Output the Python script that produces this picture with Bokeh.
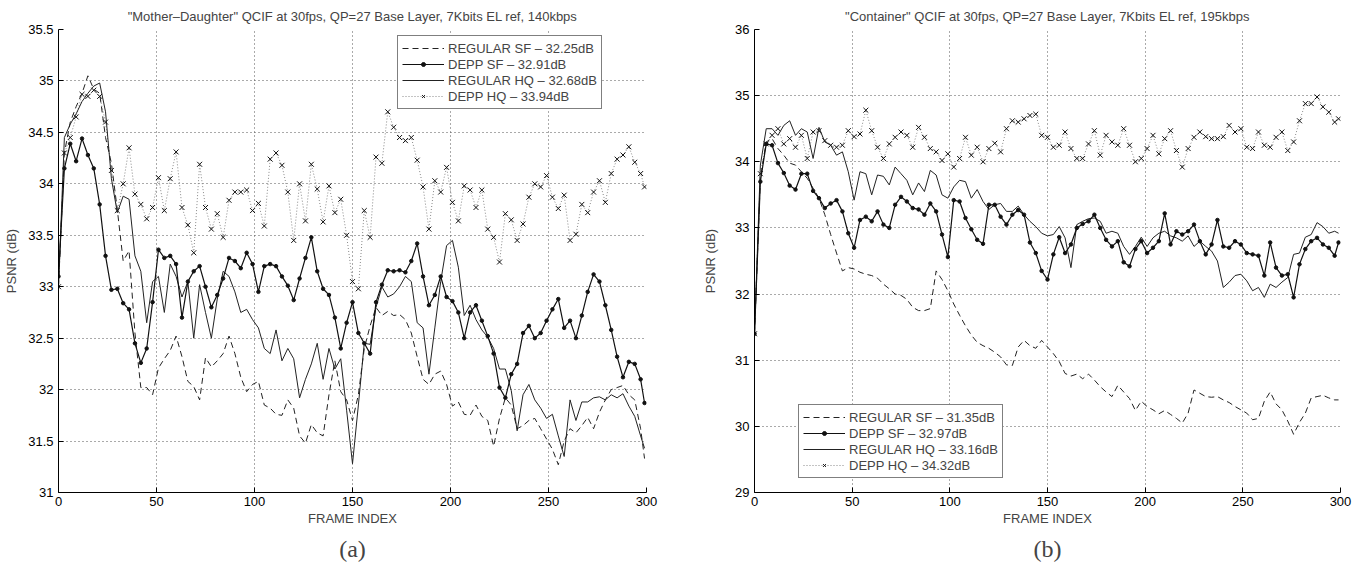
from bokeh.plotting import figure
from bokeh.layouts import row
from bokeh.models import (Legend, LegendItem, FixedTicker, NumeralTickFormatter,
                          Title, Range1d)
from bokeh.embed import file_html
from bokeh.resources import INLINE

# ---------------- data ----------------
FRAMES = list(range(0, 298, 3)) + [299]
X_TICKS = [0, 50, 100, 150, 200, 250, 300]
MD_Y_TICKS = [31, 31.5, 32, 32.5, 33, 33.5, 34, 34.5, 35, 35.5]
CT_Y_TICKS = [29, 30, 31, 32, 33, 34, 35, 36]

MD_TITLE = "\"Mother\u2013Daughter\" QCIF at 30fps, QP=27 Base Layer, 7Kbits EL ref, 140kbps"
CT_TITLE = "\"Container\" QCIF at 30fps, QP=27 Base Layer, 7Kbits EL ref, 195kbps"

MD_LABELS = ["REGULAR SF \u2013 32.25dB", "DEPP SF \u2013 32.91dB",
             "REGULAR HQ \u2013 32.68dB", "DEPP HQ \u2013 33.94dB"]
CT_LABELS = ["REGULAR SF \u2013 31.35dB", "DEPP SF \u2013 32.97dB",
             "REGULAR HQ \u2013 33.16dB", "DEPP HQ \u2013 34.32dB"]

# Mother-Daughter
MD_REG_SF = [
    33.00, 34.30, 34.60, 34.75, 34.88, 35.05, 34.92, 34.88, 34.45, 34.20,
    33.75, 33.25, 33.35, 32.55, 32.02, 32.02, 31.95, 32.21, 32.30, 32.38,
    32.52, 32.32, 32.08, 32.03, 31.90, 32.31, 32.22, 32.28, 32.35, 32.52,
    32.35, 32.12, 31.98, 32.05, 32.08, 31.85, 31.82, 31.76, 31.75, 31.90,
    31.82, 31.55, 31.48, 31.66, 31.58, 31.55, 31.95, 32.28, 31.98, 31.90,
    31.70, 31.95, 32.40, 32.62, 32.80, 32.72, 32.76, 32.72, 32.73, 32.68,
    32.55, 32.32, 32.10, 32.05, 32.15, 32.18, 32.05, 31.84, 31.88, 31.76,
    31.75, 31.85, 31.74, 31.70, 31.45, 31.72, 31.92, 31.85, 31.62, 31.65,
    31.70, 31.72, 31.62, 31.52, 31.42, 31.27, 31.50, 31.62, 31.58, 31.65,
    31.73, 31.62, 31.78, 31.90, 32.00, 32.02, 32.04, 31.95, 31.90, 31.62,
    31.33]
MD_DEPP_SF = [
    33.10, 34.15, 34.39, 34.22, 34.44, 34.28, 34.15, 33.80, 33.30, 32.97,
    32.98, 32.84, 32.78, 32.45, 32.26, 32.40, 32.85, 33.36, 33.28, 33.30,
    33.22, 32.70, 33.05, 33.15, 33.20, 33.00, 32.80, 32.92, 33.08, 33.28,
    33.25, 33.18, 33.33, 33.22, 32.95, 33.20, 33.22, 33.20, 33.10, 33.01,
    32.87, 33.08, 33.28, 33.48, 33.15, 32.98, 32.92, 32.70, 32.40, 32.65,
    32.85, 32.55, 32.45, 32.35, 32.85, 33.02, 33.16, 33.15, 33.16, 33.14,
    33.25, 33.42, 33.10, 32.82, 32.92, 33.10, 32.90, 32.86, 32.75, 32.50,
    32.75, 32.82, 32.67, 32.52, 32.35, 32.02, 31.92, 32.15, 32.25, 32.55,
    32.62, 32.50, 32.55, 32.67, 32.78, 32.88, 32.60, 32.67, 32.50, 32.72,
    32.95, 33.12, 33.05, 32.82, 32.58, 32.32, 32.12, 32.27, 32.25, 32.10,
    31.87]
MD_REG_HQ = [
    33.00, 34.45, 34.58, 34.68, 34.80, 34.88, 34.95, 34.98, 34.70, 34.05,
    33.72, 33.88, 33.85, 33.30, 33.15, 32.65, 33.05, 33.10, 32.75, 33.22,
    33.10, 32.90, 33.05, 32.50, 33.02, 32.75, 32.50, 32.88, 33.15, 33.10,
    32.95, 32.75, 32.78, 32.68, 32.60, 32.40, 32.35, 32.58, 32.28, 32.40,
    32.30, 31.92, 32.10, 32.25, 32.45, 32.10, 32.40, 32.20, 32.30, 31.80,
    31.28, 31.85, 32.45, 32.44, 32.80, 33.00, 32.90, 32.93, 33.00, 33.10,
    33.05, 32.65, 32.60, 32.15, 32.60, 33.05, 33.40, 33.45, 33.19, 32.72,
    32.82, 32.68, 32.58, 32.51, 32.40, 32.20, 32.20, 31.99, 31.60, 31.95,
    32.05, 31.90, 31.82, 31.72, 31.76, 31.55, 31.35, 31.90, 31.70, 31.88,
    31.88, 31.92, 31.93, 31.90, 31.95, 31.92, 31.96, 31.84, 31.74, 31.55,
    31.43]
MD_DEPP_HQ = [
    33.00, 34.30, 34.45, 34.65, 34.87, 34.85, 34.91, 34.85, 34.60, 34.13,
    33.74, 34.00, 34.35, 33.90, 33.80, 33.66, 33.77, 34.06, 33.74, 34.05,
    34.31, 33.77, 33.60, 33.33, 34.19, 33.77, 33.56, 33.71, 33.48, 33.84,
    33.92, 33.92, 33.94, 33.74, 33.81, 33.59, 34.24, 34.30, 34.18, 33.92,
    33.45, 34.00, 33.64, 34.19, 33.95, 33.63, 33.98, 33.72, 33.85, 33.50,
    33.05, 32.98, 33.74, 33.48, 34.26, 34.20, 34.70, 34.55, 34.45, 34.42,
    34.45, 34.23, 33.97, 33.56, 34.03, 33.92, 34.16, 33.82, 33.64, 33.98,
    33.94, 33.77, 33.94, 33.56, 33.48, 33.24, 33.71, 33.65, 33.45, 33.61,
    33.87, 34.00, 33.97, 34.08, 33.87, 33.76, 33.89, 33.45, 33.51, 33.80,
    33.72, 33.92, 34.03, 33.82, 34.10, 34.24, 34.28, 34.36, 34.21, 34.10,
    33.97]

# Container
CT_REG_SF = [
    31.40, 33.75, 34.30, 34.35, 34.20, 34.10, 33.98, 33.95, 33.85, 33.75,
    33.60, 33.45, 33.20, 32.90, 32.62, 32.35, 32.40, 32.38, 32.33, 32.30,
    32.28, 32.24, 32.15, 32.08, 32.00, 31.98, 31.92, 31.80, 31.75, 31.75,
    31.78, 32.35, 32.22, 32.05, 31.85, 31.68, 31.52, 31.38, 31.27, 31.22,
    31.18, 31.12, 31.05, 30.93, 30.92, 31.20, 31.30, 31.22, 31.18, 31.30,
    31.20, 31.10, 30.98, 30.80, 30.76, 30.79, 30.72, 30.79, 30.70, 30.60,
    30.52, 30.45, 30.62, 30.52, 30.42, 30.24, 30.38, 30.30, 30.25, 30.19,
    30.24, 30.18, 30.12, 30.05, 30.20, 30.55, 30.50, 30.45, 30.44, 30.45,
    30.40, 30.36, 30.30, 30.25, 30.20, 30.10, 30.12, 30.38, 30.52, 30.34,
    30.25, 30.08, 29.88, 30.06, 30.20, 30.43, 30.45, 30.47, 30.43, 30.40,
    30.40]
CT_DEPP_SF = [
    31.40, 33.70, 34.27, 34.25, 33.98, 33.83, 33.64, 33.58, 33.82, 33.82,
    33.56, 33.45, 33.30, 33.37, 33.42, 33.25, 32.92, 32.70, 33.12, 33.17,
    33.10, 33.25, 33.05, 33.00, 33.35, 33.47, 33.40, 33.30, 33.28, 33.20,
    33.37, 33.25, 32.90, 32.56, 33.42, 33.40, 33.15, 32.98, 32.82, 32.76,
    33.35, 33.35, 33.17, 33.05, 33.20, 33.27, 33.20, 32.78, 32.62, 32.35,
    32.22, 32.60, 32.86, 32.62, 32.75, 33.00, 33.06, 33.10, 33.20, 33.00,
    32.82, 32.72, 32.80, 32.48, 32.42, 32.68, 32.80, 32.62, 32.70, 32.80,
    33.22, 32.75, 32.95, 32.90, 32.95, 33.05, 32.80, 32.60, 32.75, 33.12,
    32.72, 32.70, 32.80, 32.75, 32.62, 32.60, 32.58, 32.28, 32.78, 32.40,
    32.28, 32.30, 31.95, 32.45, 32.68, 32.80, 32.85, 32.75, 32.70, 32.58,
    32.78]
CT_REG_HQ = [
    31.40, 33.95, 34.50, 34.50, 34.40, 34.55, 34.62, 34.40, 34.50, 34.45,
    34.05, 34.52, 34.30, 34.25, 34.10, 34.15, 33.85, 33.42, 33.85, 33.82,
    33.50, 33.80, 33.78, 33.65, 33.92, 33.82, 33.72, 33.50, 33.68, 33.55,
    33.87, 33.80, 33.50, 33.45, 33.62, 33.72, 33.70, 33.45, 33.58, 33.40,
    33.28, 33.35, 33.37, 33.25, 33.25, 33.33, 33.20, 33.10, 33.02, 32.92,
    32.88, 32.90, 33.02, 32.85, 32.40, 33.05, 33.10, 33.14, 33.15, 33.10,
    32.92, 32.95, 32.92, 32.72, 32.60, 32.72, 32.86, 32.72, 32.85, 32.92,
    32.95, 32.88, 32.85, 32.80, 32.88, 32.72, 32.80, 32.72, 32.65, 32.50,
    32.10, 32.18, 32.28, 32.30, 32.20, 32.05, 32.10, 31.95, 32.15, 32.10,
    32.18, 32.25, 32.60, 32.62, 32.86, 32.90, 33.08, 33.02, 32.92, 32.95,
    32.92]
CT_DEPP_HQ = [
    31.40, 33.82, 34.27, 34.40, 34.50, 34.27, 34.35, 34.22, 34.40, 34.05,
    34.45, 34.47, 34.32, 34.25, 34.22, 34.25, 34.47, 34.38, 34.42, 34.78,
    34.47, 34.22, 34.05, 34.27, 34.37, 34.45, 34.40, 34.22, 34.52, 34.37,
    34.20, 34.15, 34.02, 34.12, 33.92, 34.05, 34.37, 34.10, 34.22, 34.00,
    34.20, 34.28, 34.15, 34.50, 34.62, 34.60, 34.65, 34.70, 34.72, 34.40,
    34.37, 34.22, 34.25, 34.45, 34.20, 34.05, 34.05, 34.27, 34.47, 34.10,
    34.40, 34.30, 34.25, 34.50, 34.25, 34.00, 34.05, 34.20, 34.40, 34.12,
    34.35, 34.47, 34.17, 33.92, 34.20, 34.37, 34.45, 34.38, 34.35, 34.35,
    34.38, 34.55, 34.45, 34.50, 34.22, 34.20, 34.45, 34.25, 34.22, 34.37,
    34.45, 34.17, 34.30, 34.62, 34.88, 34.88, 34.98, 34.83, 34.75, 34.60,
    34.65]

FONT = "Liberation Sans"


def make_panel(title, caption, y_lo, y_hi, y_ticks, reg_sf, depp_sf, reg_hq, depp_hq,
               labels, width, border_left, border_right, legend_loc, ylab_standoff):
    p = figure(width=width, height=572, output_backend="svg", toolbar_location=None,
               x_range=Range1d(0, 300), y_range=Range1d(y_lo, y_hi),
               min_border_left=border_left, min_border_right=border_right,
               min_border_top=29, min_border_bottom=80,
               background_fill_color="white", border_fill_color="white")
    p.outline_line_color = None

    p.title.text = title
    p.title.align = "center"
    p.title.text_font = FONT
    p.title.text_font_style = "normal"
    p.title.text_font_size = "13px"
    p.title.standoff = 12

    p.add_layout(Title(text=caption, align="center", text_font="Liberation Serif",
                       text_font_size="24px", text_font_style="normal"), "below")

    for ax in (p.xaxis[0], p.yaxis[0]):
        ax.major_label_text_font = FONT
        ax.major_label_text_font_size = "13px"
        ax.major_label_text_color = "black"
        ax.axis_label_text_font = FONT
        ax.axis_label_text_font_size = "13px"
        ax.axis_label_text_font_style = "normal"
        ax.axis_line_color = "black"
        ax.major_tick_in = 5
        ax.major_tick_out = 0
        ax.minor_tick_line_color = None
        ax.formatter = NumeralTickFormatter(format="0.[0]")
    p.xaxis.ticker = FixedTicker(ticks=X_TICKS)
    p.yaxis.ticker = FixedTicker(ticks=y_ticks)
    p.xaxis.axis_label = "FRAME INDEX"
    p.xaxis.axis_label_standoff = 2
    p.yaxis.axis_label = "PSNR (dB)"
    p.yaxis.axis_label_standoff = ylab_standoff
    p.xaxis.major_label_standoff = 4
    p.yaxis.major_label_standoff = 5

    for g in (p.xgrid[0], p.ygrid[0]):
        g.grid_line_color = "#555555"
        g.grid_line_dash = "1 3"
        g.grid_line_width = 1

    r_hq_line = p.line(FRAMES, depp_hq, line_color="#888888", line_dash="1 2", line_width=1)
    r_hq_mark = p.scatter(FRAMES, depp_hq, marker="x", size=7, line_color="#111111", line_width=1)
    r_sf = p.line(FRAMES, reg_sf, line_color="#222222", line_dash="6 4", line_width=1)
    r_rhq = p.line(FRAMES, reg_hq, line_color="#222222", line_width=1)
    r_dsf_line = p.line(FRAMES, depp_sf, line_color="#111111", line_width=1.2)
    r_dsf_mark = p.scatter(FRAMES, depp_sf, marker="circle", size=3.5,
                           fill_color="#111111", line_color="#111111")

    legend = Legend(items=[
        LegendItem(label=labels[0], renderers=[r_sf]),
        LegendItem(label=labels[1], renderers=[r_dsf_line, r_dsf_mark]),
        LegendItem(label=labels[2], renderers=[r_rhq]),
        LegendItem(label=labels[3], renderers=[r_hq_line, r_hq_mark]),
    ], location=legend_loc)
    legend.border_line_color = "black"
    legend.border_line_width = 1
    legend.background_fill_color = "white"
    legend.background_fill_alpha = 1
    legend.label_text_font = FONT
    legend.label_text_font_size = "13px"
    legend.glyph_width = 42
    legend.glyph_height = 10
    legend.label_height = 16
    legend.spacing = 0
    legend.padding = 4
    legend.margin = 0
    legend.label_standoff = 4
    p.add_layout(legend)
    return p


p1 = make_panel(MD_TITLE, "(a)", 31, 35.5, MD_Y_TICKS, MD_REG_SF, MD_DEPP_SF, MD_REG_HQ,
                MD_DEPP_HQ, MD_LABELS, 700, 58, 54, (339, 383), 6)
p2 = make_panel(CT_TITLE, "(b)", 29, 36, CT_Y_TICKS, CT_REG_SF, CT_DEPP_SF, CT_REG_HQ,
                CT_DEPP_HQ, CT_LABELS, 664, 53, 24, (44, 14), 14)

layout = row(p1, p2)
open("out.html", "w").write(file_html(layout, INLINE))
